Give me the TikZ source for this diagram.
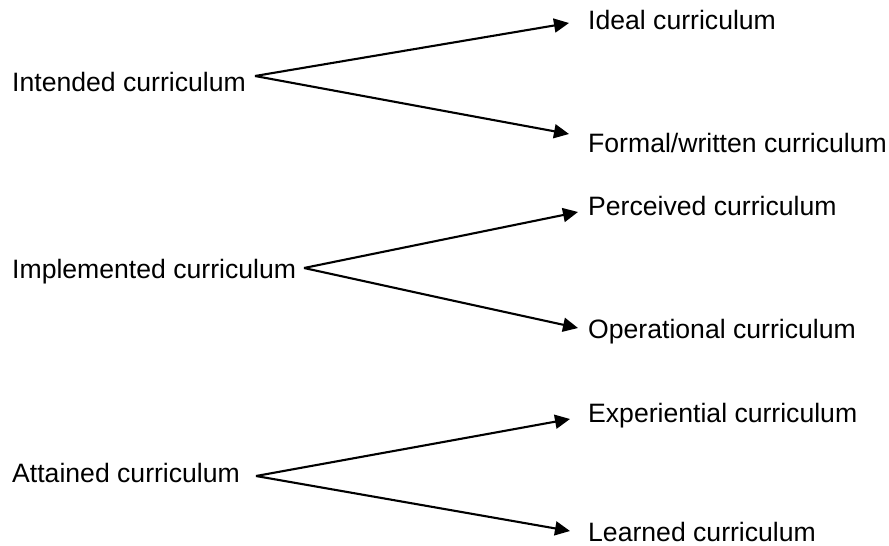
\documentclass[tikz,border=0pt]{standalone}
\usepackage{fontspec}
\setmainfont{Liberation Sans}
\usetikzlibrary{arrows.meta}
\tikzset{
  lbl/.style={anchor=base west, inner sep=0pt, font=\fontsize{26.6}{30}\selectfont},
  arr/.style={line width=2.1pt, -{Triangle[length=15pt,width=14pt]}}
}

\begin{document}
\begin{tikzpicture}[x=1pt, y=-1pt]
    \useasboundingbox (0,0) rectangle (889,546);
    % left column
    \node[lbl] (intended) at (12,91) {Intended curriculum};
    \node[lbl] (implemented) at (12,278) {Implemented curriculum};
    \node[lbl] (attained) at (12,482) {Attained curriculum};
    % right column
    \node[lbl] (ideal) at (588,29) {Ideal curriculum};
    \node[lbl] (formal) at (588,152) {Formal/written curriculum};
    \node[lbl] (perceived) at (588,215) {Perceived curriculum};
    \node[lbl] (operational) at (588,338) {Operational curriculum};
    \node[lbl] (experiential) at (588,422) {Experiential curriculum};
    \node[lbl] (learned) at (588,541) {Learned curriculum};
    % branch points and arrow tips
    \coordinate (v-intended) at (255,76);
    \coordinate (v-implemented) at (304,268);
    \coordinate (v-attained) at (256,476);
    \coordinate (t-ideal) at (569,23);
    \coordinate (t-formal) at (569,134);
    \coordinate (t-perceived) at (578,212);
    \coordinate (t-operational) at (578,328);
    \coordinate (t-experiential) at (570,419);
    \coordinate (t-learned) at (570,531);
    \draw[arr] (v-intended) -- (t-ideal);
    \draw[arr] (v-intended) -- (t-formal);
    \draw[arr] (v-implemented) -- (t-perceived);
    \draw[arr] (v-implemented) -- (t-operational);
    \draw[arr] (v-attained) -- (t-experiential);
    \draw[arr] (v-attained) -- (t-learned);
\end{tikzpicture}
\end{document}
